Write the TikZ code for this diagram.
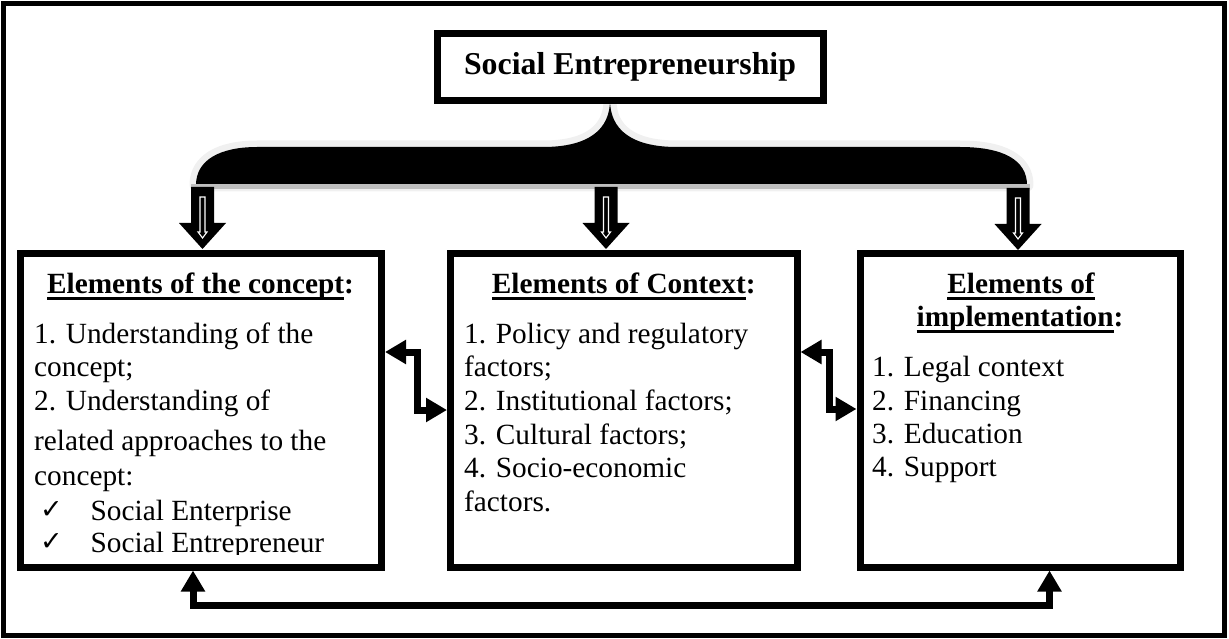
\documentclass[tikz,border=0pt]{standalone}
\usepackage{fontspec}
\setmainfont{Liberation Serif}
\newfontfamily\symfont{DejaVu Sans}
\usetikzlibrary{arrows.meta}

% underline sitting just below the baseline
\newcommand\hdul[1]{\setbox0\hbox{#1}\rlap{\rule[-6.5pt]{\wd0}{2.8pt}}\box0}

\begin{document}
\begin{tikzpicture}[x=1pt,y=-1pt,line join=miter,
  >={Triangle[length=21pt,width=23pt]},
  panel/.style={draw=black,fill=white,line width=7pt,inner sep=0pt},
  body/.style={font=\fontsize{29.3pt}{33.4pt}\selectfont,inner sep=0pt,anchor=base west},
  head/.style={font=\fontsize{29.3pt}{33.4pt}\selectfont\bfseries,inner sep=0pt,anchor=base},
  tick/.style={font=\symfont\fontsize{27pt}{27pt}\selectfont,inner sep=0pt,anchor=base west},
  conn/.style={draw=black,line width=7pt,<->},
  downarrow/.pic={
    \fill[black] (-11.5,0) -- (11.5,0) -- (11.5,36) -- (23.5,36) -- (0,62)
      -- (-23.5,36) -- (-11.5,36) -- cycle;
    \draw[white,line width=1.1pt] (-2.5,10) -- (2.5,10) -- (2.5,45) -- (4.5,45)
      -- (0,51) -- (-4.5,45) -- (-2.5,45) -- cycle;
  }]
\useasboundingbox (0,0) rectangle (1229,639);

% outer frame
\draw[line width=5pt] (3,4) rectangle (1224,635);

% brace: light rim, black body, grey shadow underneath
\def\bracepath{(196,185) .. controls (196,160) and (220,147) .. (257,147) -- (543,147)
  .. controls (588,147) and (610,130) .. (610,100)
  .. controls (610,130) and (632,147) .. (677,147) -- (960,147)
  .. controls (1003,147) and (1027,160) .. (1027,185) -- cycle}
\draw[gray!12,line width=13pt,line join=round] \bracepath;
\fill[black] \bracepath;
\draw[gray!50,line width=5pt] (191,187) -- (1030,187);

% title
\node[panel,minimum width=386pt,minimum height=67pt,
  font=\fontsize{31.8pt}{36pt}\selectfont\bfseries] (t) at (630,67) {Social Entrepreneurship};

% block arrows from the brace
\pic at (202.5,187) {downarrow};
\pic at (606,187) {downarrow};
\pic at (1018,188) {downarrow};

% three panels
\node[panel,minimum width=361pt,minimum height=313.5pt] (l) at (201,410.25) {};
\node[panel,minimum width=346.5pt,minimum height=313.5pt] (m) at (623.75,410.25) {};
\node[panel,minimum width=320.5pt,minimum height=313.5pt] (r) at (1020.25,410.25) {};

% concept panel text
\node[head] (lh) at (200.5,293.3) {\hdul{Elements of the concept}:};
\node[body] (l1) at (34,343.3) {1. Understanding of the};
\node[body] (l2) at (34,376.7) {concept;};
\node[body] (l3) at (34,410) {2. Understanding of};
\node[body] (l4) at (34,450) {related approaches to the};
\node[body] (l5) at (34,485) {concept:};
\node[tick] (c1) at (40,518) {✓};
\node[body] (l6) at (90.5,520) {Social Enterprise};
\node[tick] (c2) at (40,550) {✓};
\begin{scope}
  \clip (20,500) rectangle (380,554);
  \node[body] (l7) at (90.5,552) {Social Entrepreneur};
\end{scope}

% context panel text
\node[head] (mh) at (623.75,293.3) {\hdul{Elements of Context}:};
\node[body] (m1) at (464,343.3) {1. Policy and regulatory};
\node[body] (m2) at (464,376.9) {factors;};
\node[body] (m3) at (464,410.5) {2. Institutional factors;};
\node[body] (m4) at (464,444.1) {3. Cultural factors;};
\node[body] (m5) at (464,477.7) {4. Socio-economic};
\node[body] (m6) at (464,511.3) {factors.};

% implementation panel text
\node[head] (rh1) at (1021,293.3) {\hdul{Elements of}};
\node[head] (rh2) at (1020,326.7) {\hdul{implementation}:};
\node[body] (r1) at (872,376.7) {1. Legal context};
\node[body] (r2) at (872,410) {2. Financing};
\node[body] (r3) at (872,443.3) {3. Education};
\node[body] (r4) at (872,476.7) {4. Support};

% stepped two-way links between neighbouring panels
\coordinate (a1) at (417,352);
\coordinate (a2) at (417,410);
\draw[conn] (l.east |- a1) -- (a1) -- (a2) -- (m.west |- a2);
\coordinate (b1) at (829,352);
\coordinate (b2) at (829,409);
\draw[conn] (m.east |- b1) -- (b1) -- (b2) -- (r.west |- b2);

% link along the bottom between the outer panels
\coordinate (q1) at (193,605);
\coordinate (q2) at (1049.5,605);
\draw[conn] (l.south -| q1) -- (q1) -- (q2) -- (r.south -| q2);
\end{tikzpicture}
\end{document}
